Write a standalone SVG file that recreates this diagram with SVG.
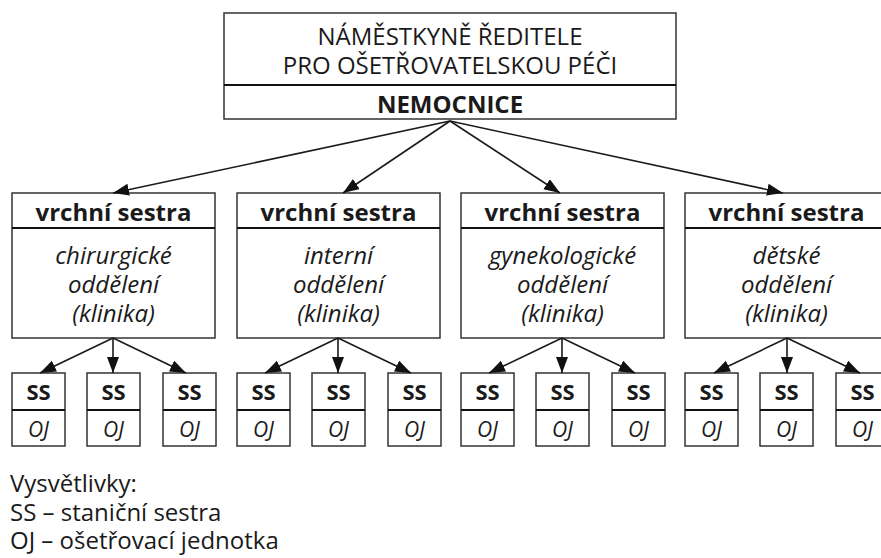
<svg xmlns="http://www.w3.org/2000/svg" width="881" height="558" viewBox="0 0 881 558">
<defs>
<style>
.box{fill:#fff;stroke:#333;stroke-width:1.5}
.div{stroke:#111;stroke-width:2}
.t{font-family:"Open Sans","Noto Sans","DejaVu Sans",sans-serif;fill:#1a1a1a;text-anchor:middle}
.r{font-size:24px}
.b{font-size:24px;font-weight:bold}
.i{font-size:24px;font-style:italic}
.ss{font-size:22px;font-weight:bold}
.oj{font-size:21px;font-style:italic}
.leg{font-family:"Open Sans","Noto Sans","DejaVu Sans",sans-serif;fill:#1a1a1a;font-size:24px}
.c{stroke:#1a1a1a;stroke-width:1.6;fill:none;marker-end:url(#ah)}
</style>
<marker id="ah" markerUnits="userSpaceOnUse" markerWidth="17" markerHeight="13" refX="16" refY="6" orient="auto">
<path d="M0,0 L16,6 L0,12 z" fill="#111"/>
</marker>
</defs>

<g id="top">
<rect class="box" x="224" y="13" width="452" height="106"/>
<line class="div" x1="224" y1="85" x2="676" y2="85"/>
<text class="t r" x="450" y="45">NÁMĚSTKYNĚ ŘEDITELE</text>
<text class="t r" x="450" y="74">PRO OŠETŘOVATELSKOU PÉČI</text>
<text class="t b" x="450" y="113">NEMOCNICE</text>
</g>

<g id="vs1">
<rect class="box" x="12" y="193" width="203" height="145"/>
<line class="div" x1="12" y1="228" x2="215" y2="228"/>
<text class="t b" x="113.5" y="221">vrchní sestra</text>
<text class="t i" x="113.5" y="264">chirurgické</text>
<text class="t i" x="113.5" y="293">oddělení</text>
<text class="t i" x="113.5" y="322">(klinika)</text>
</g>
<g id="vs2">
<rect class="box" x="237" y="193" width="203" height="145"/>
<line class="div" x1="237" y1="228" x2="440" y2="228"/>
<text class="t b" x="338.5" y="221">vrchní sestra</text>
<text class="t i" x="338.5" y="264">interní</text>
<text class="t i" x="338.5" y="293">oddělení</text>
<text class="t i" x="338.5" y="322">(klinika)</text>
</g>
<g id="vs3">
<rect class="box" x="461" y="193" width="203" height="145"/>
<line class="div" x1="461" y1="228" x2="664" y2="228"/>
<text class="t b" x="562.5" y="221">vrchní sestra</text>
<text class="t i" x="562.5" y="264">gynekologické</text>
<text class="t i" x="562.5" y="293">oddělení</text>
<text class="t i" x="562.5" y="322">(klinika)</text>
</g>
<g id="vs4">
<rect class="box" x="685" y="193" width="203" height="145"/>
<line class="div" x1="685" y1="228" x2="888" y2="228"/>
<text class="t b" x="786.5" y="221">vrchní sestra</text>
<text class="t i" x="786.5" y="264">dětské</text>
<text class="t i" x="786.5" y="293">oddělení</text>
<text class="t i" x="786.5" y="322">(klinika)</text>
</g>

<g id="ss1a"><rect class="box" x="12" y="373" width="53" height="73"/><line class="div" x1="12" y1="410" x2="65" y2="410"/><text class="t ss" x="38.5" y="400">SS</text><text class="t oj" x="38.5" y="437">OJ</text></g>
<g id="ss1b"><rect class="box" x="87" y="373" width="53" height="73"/><line class="div" x1="87" y1="410" x2="140" y2="410"/><text class="t ss" x="113.5" y="400">SS</text><text class="t oj" x="113.5" y="437">OJ</text></g>
<g id="ss1c"><rect class="box" x="163" y="373" width="53" height="73"/><line class="div" x1="163" y1="410" x2="216" y2="410"/><text class="t ss" x="189.5" y="400">SS</text><text class="t oj" x="189.5" y="437">OJ</text></g>

<g id="ss2a"><rect class="box" x="237" y="373" width="53" height="73"/><line class="div" x1="237" y1="410" x2="290" y2="410"/><text class="t ss" x="263.5" y="400">SS</text><text class="t oj" x="263.5" y="437">OJ</text></g>
<g id="ss2b"><rect class="box" x="312" y="373" width="53" height="73"/><line class="div" x1="312" y1="410" x2="365" y2="410"/><text class="t ss" x="338.5" y="400">SS</text><text class="t oj" x="338.5" y="437">OJ</text></g>
<g id="ss2c"><rect class="box" x="388" y="373" width="53" height="73"/><line class="div" x1="388" y1="410" x2="441" y2="410"/><text class="t ss" x="414.5" y="400">SS</text><text class="t oj" x="414.5" y="437">OJ</text></g>

<g id="ss3a"><rect class="box" x="461" y="373" width="53" height="73"/><line class="div" x1="461" y1="410" x2="514" y2="410"/><text class="t ss" x="487.5" y="400">SS</text><text class="t oj" x="487.5" y="437">OJ</text></g>
<g id="ss3b"><rect class="box" x="536" y="373" width="53" height="73"/><line class="div" x1="536" y1="410" x2="589" y2="410"/><text class="t ss" x="562.5" y="400">SS</text><text class="t oj" x="562.5" y="437">OJ</text></g>
<g id="ss3c"><rect class="box" x="612" y="373" width="53" height="73"/><line class="div" x1="612" y1="410" x2="665" y2="410"/><text class="t ss" x="638.5" y="400">SS</text><text class="t oj" x="638.5" y="437">OJ</text></g>

<g id="ss4a"><rect class="box" x="685" y="373" width="53" height="73"/><line class="div" x1="685" y1="410" x2="738" y2="410"/><text class="t ss" x="711.5" y="400">SS</text><text class="t oj" x="711.5" y="437">OJ</text></g>
<g id="ss4b"><rect class="box" x="760" y="373" width="53" height="73"/><line class="div" x1="760" y1="410" x2="813" y2="410"/><text class="t ss" x="786.5" y="400">SS</text><text class="t oj" x="786.5" y="437">OJ</text></g>
<g id="ss4c"><rect class="box" x="836" y="373" width="53" height="73"/><line class="div" x1="836" y1="410" x2="889" y2="410"/><text class="t ss" x="862.5" y="400">SS</text><text class="t oj" x="862.5" y="437">OJ</text></g>

<g id="connectors">
<line class="c" x1="450" y1="121" x2="113" y2="193"/>
<line class="c" x1="450" y1="121" x2="343" y2="193"/>
<line class="c" x1="450" y1="121" x2="560" y2="193"/>
<line class="c" x1="450" y1="121" x2="783" y2="193"/>

<line class="c" x1="113" y1="338" x2="40" y2="373"/>
<line class="c" x1="113" y1="338" x2="113" y2="373"/>
<line class="c" x1="113" y1="338" x2="186" y2="373"/>

<line class="c" x1="338" y1="338" x2="265" y2="373"/>
<line class="c" x1="338" y1="338" x2="338" y2="373"/>
<line class="c" x1="338" y1="338" x2="411" y2="373"/>

<line class="c" x1="562" y1="338" x2="489" y2="373"/>
<line class="c" x1="562" y1="338" x2="562" y2="373"/>
<line class="c" x1="562" y1="338" x2="635" y2="373"/>

<line class="c" x1="787" y1="338" x2="714" y2="373"/>
<line class="c" x1="787" y1="338" x2="787" y2="373"/>
<line class="c" x1="787" y1="338" x2="860" y2="373"/>
</g>

<g id="legend">
<text class="leg" x="10" y="492">Vysvětlivky:</text>
<text class="leg" x="10" y="521">SS – staniční sestra</text>
<text class="leg" x="10" y="549">OJ – ošetřovací jednotka</text>
</g>
</svg>
